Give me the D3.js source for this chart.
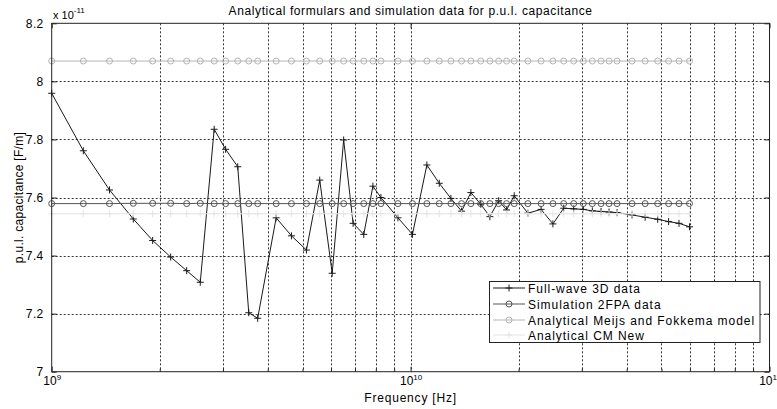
<!DOCTYPE html>
<html>
<head>
<meta charset="utf-8">
<script src="https://cdn.jsdelivr.net/npm/d3@7/dist/d3.min.js"></script>
<style>
  html, body { margin: 0; padding: 0; background: #fff; }
  svg { display: block; font-family: "Liberation Sans", Arial, Helvetica, sans-serif; }
</style>
</head>
<body>
<svg id="chart" width="777" height="409"></svg>
<script>
// ---------------- data ----------------
const freqGHz = [1.0, 1.225, 1.449, 1.688, 1.911, 2.145, 2.377, 2.594, 2.836, 3.052,
  3.299, 3.54, 3.749, 4.221, 4.656, 5.126, 5.582, 6.047, 6.508, 6.916,
  7.404, 7.852, 8.266, 9.22, 10.12, 11.1, 12.02, 12.95, 13.87, 14.72,
  15.68, 16.63, 17.59, 18.51, 19.44, 21.22, 23.1, 24.92, 26.7, 28.47,
  30.29, 32.09, 33.93, 35.72, 37.6, 41.4, 45.03, 48.8, 52.35, 55.96, 59.86];

const fullWave = [7.959, 7.761, 7.626, 7.526, 7.452, 7.395, 7.348, 7.308, 7.835, 7.766,
  7.706, 7.203, 7.184, 7.530, 7.468, 7.419, 7.660, 7.339, 7.798, 7.511,
  7.473, 7.639, 7.600, 7.530, 7.473, 7.712, 7.649, 7.597, 7.553, 7.617,
  7.577, 7.534, 7.589, 7.557, 7.606, 7.546, 7.559, 7.509, 7.563, 7.561,
  7.559, 7.554, 7.552, 7.550, 7.548, 7.540, 7.532, 7.525, 7.517, 7.511, 7.499];

const sim2FPA = [7.579, 7.579, 7.579, 7.580, 7.580, 7.580, 7.579, 7.580, 7.579, 7.579,
  7.579, 7.579, 7.579, 7.579, 7.579, 7.579, 7.579, 7.579, 7.579, 7.579,
  7.579, 7.579, 7.579, 7.579, 7.579, 7.579, 7.579, 7.579, 7.579, 7.579,
  7.579, 7.579, 7.579, 7.579, 7.579, 7.579, 7.579, 7.579, 7.579, 7.579,
  7.579, 7.579, 7.579, 7.579, 7.579, 7.579, 7.579, 7.579, 7.579, 7.579, 7.579];

const meijsFokkema = [8.07, 8.07, 8.07, 8.07, 8.07, 8.07, 8.07, 8.07, 8.07, 8.07,
  8.07, 8.07, 8.07, 8.07, 8.07, 8.07, 8.07, 8.07, 8.07, 8.07,
  8.07, 8.07, 8.07, 8.07, 8.07, 8.07, 8.07, 8.07, 8.07, 8.07,
  8.07, 8.07, 8.07, 8.07, 8.07, 8.07, 8.07, 8.07, 8.07, 8.07,
  8.07, 8.07, 8.07, 8.07, 8.07, 8.07, 8.07, 8.07, 8.07, 8.07, 8.07];

const cmNew = [7.544, 7.544, 7.544, 7.544, 7.544, 7.544, 7.544, 7.544, 7.544, 7.544,
  7.544, 7.544, 7.544, 7.544, 7.544, 7.544, 7.544, 7.544, 7.544, 7.544,
  7.544, 7.544, 7.544, 7.544, 7.544, 7.544, 7.544, 7.544, 7.544, 7.544,
  7.544, 7.544, 7.544, 7.544, 7.544, 7.544, 7.544, 7.544, 7.544, 7.544,
  7.544, 7.544, 7.544, 7.544, 7.544, 7.544, 7.544, 7.544, 7.544, 7.544, 7.544];

const yTicks = [7, 7.2, 7.4, 7.6, 7.8, 8, 8.2];
const yTickLabels = ["7", "7.2", "7.4", "7.6", "7.8", "8", "8.2"];
const xMajorTicks = [1e9, 1e10, 1e11];
const xMajorExponents = ["9", "10", "11"];

const titleText = "Analytical formulars and simulation data for p.u.l. capacitance";
const xLabelText = "Frequency [Hz]";
const yLabelText = "p.u.l. capacitance [F/m]";

const seriesNames = ["Full-wave 3D data", "Simulation 2FPA data",
  "Analytical Meijs and Fokkema model", "Analytical CM New"];

// ---------------- layout ----------------
const svg = d3.select("#chart");
const L = 51.7, R = 769.5, T = 23.3, B = 371.7;

const x = d3.scaleLog().domain([1e9, 1e11]).range([L, R]);
const y = d3.scaleLinear().domain([7, 8.2]).range([B, T]);

const xMinor = [];
[1e9, 1e10].forEach(d => { for (let k = 2; k <= 9; k++) xMinor.push(d * k); });

// ---------------- grid ----------------
const gridG = svg.append("g");
gridG.selectAll("line.vx").data(xMinor.concat([1e10])).enter().append("line")
  .attr("x1", d => Math.round(x(d)) + 0.5).attr("x2", d => Math.round(x(d)) + 0.5)
  .attr("y1", T).attr("y2", B)
  .attr("stroke", "#333").attr("stroke-width", 1).attr("stroke-dasharray", "2,2");
gridG.selectAll("line.hy").data(yTicks.slice(1, -1)).enter().append("line")
  .attr("x1", L).attr("x2", R)
  .attr("y1", d => Math.round(y(d)) + 0.5).attr("y2", d => Math.round(y(d)) + 0.5)
  .attr("stroke", "#333").attr("stroke-width", 1).attr("stroke-dasharray", "2,2");

// ---------------- series ----------------
const freqHz = freqGHz.map(f => f * 1e9);
function pts(vals) { return vals.map((v, i) => [x(freqHz[i]), y(v)]); }
const line = d3.line();

function plusMarker(g, p, color, s) {
  g.selectAll(null).data(p).enter().append("path")
    .attr("d", d => `M${d[0]-s},${d[1]}H${d[0]+s}M${d[0]},${d[1]-s}V${d[1]+s}`)
    .attr("stroke", color).attr("stroke-width", 1).attr("fill", "none");
}
function circleMarker(g, p, color, r) {
  g.selectAll(null).data(p).enter().append("circle")
    .attr("cx", d => d[0]).attr("cy", d => d[1]).attr("r", r)
    .attr("stroke", color).attr("stroke-width", 1).attr("fill", "none");
}

const styles = [
  { vals: fullWave, color: "#1a1a1a", marker: "plus" },
  { vals: sim2FPA, color: "#555555", marker: "circle" },
  { vals: meijsFokkema, color: "#b4b4b4", marker: "circle" },
  { vals: cmNew, color: "#e4e4e4", marker: "plus" }
];

const dataG = svg.append("g");
styles.forEach(s => {
  const p = pts(s.vals);
  const g = dataG.append("g");
  g.append("path").attr("d", line(p)).attr("fill", "none")
    .attr("stroke", s.color).attr("stroke-width", 1);
  if (s.marker === "plus") plusMarker(g, p, s.color, 3.5);
  else circleMarker(g, p, s.color, 3);
});

// ---------------- axes ----------------
const axG = svg.append("g");
const yAxis = d3.axisLeft(y).tickValues(yTicks)
  .tickFormat((d, i) => yTickLabels[i]).tickSize(-5).tickPadding(8);
const yG = axG.append("g").attr("transform", `translate(${L},0)`).call(yAxis);
yG.select(".domain").remove();
yG.selectAll("line").attr("stroke", "#222");
yG.selectAll("text").attr("font-size", 12).attr("fill", "#000")
  .attr("letter-spacing", 0.4)
  .attr("font-family", "Liberation Sans, Arial, sans-serif");

const yAxisR = d3.axisRight(y).tickValues(yTicks).tickFormat("").tickSize(-5);
const yGR = axG.append("g").attr("transform", `translate(${R},0)`).call(yAxisR);
yGR.select(".domain").remove();
yGR.selectAll("line").attr("stroke", "#222");

const xAxis = d3.axisBottom(x).tickValues(xMajorTicks).tickFormat("").tickSize(-5).tickPadding(8);
const xG = axG.append("g").attr("transform", `translate(0,${B})`).call(xAxis);
xG.select(".domain").remove();
xG.selectAll("line").attr("stroke", "#222");
xG.selectAll(".tick text").each(function(d, i) {
  const t = d3.select(this);
  t.text(null).attr("font-size", 12).attr("fill", "#000").attr("dy", null)
    .attr("y", 13.5).attr("text-anchor", "middle")
    .attr("font-family", "Liberation Sans, Arial, sans-serif");
  t.append("tspan").text("10");
  t.append("tspan").text(xMajorExponents[i]).attr("font-size", 8).attr("dy", -5);
});
const xMinorAxis = d3.axisBottom(x).tickValues(xMinor).tickFormat("").tickSize(-3);
const xmG = axG.append("g").attr("transform", `translate(0,${B})`).call(xMinorAxis);
xmG.select(".domain").remove();
xmG.selectAll("line").attr("stroke", "#222");
const xTopAxis = d3.axisTop(x).tickValues(xMajorTicks).tickFormat("").tickSize(-5);
const xtG = axG.append("g").attr("transform", `translate(0,${T})`).call(xTopAxis);
xtG.select(".domain").remove();
xtG.selectAll("line").attr("stroke", "#222");

axG.append("rect").attr("x", L).attr("y", T).attr("width", R - L).attr("height", B - T)
  .attr("fill", "none").attr("stroke", "#222").attr("stroke-width", 1);

const mult = svg.append("text").attr("x", 53).attr("y", 18.5)
  .attr("font-size", 11).attr("fill", "#000");
mult.append("tspan").text("x 10");
mult.append("tspan").text("-11").attr("font-size", 8).attr("dy", -6);

// title & labels
svg.append("text").attr("x", (L + R) / 2).attr("y", 14.5).attr("text-anchor", "middle")
  .attr("font-size", 12).attr("letter-spacing", 0.6).attr("fill", "#000").text(titleText);
svg.append("text").attr("x", (L + R) / 2).attr("y", 401.5).attr("text-anchor", "middle")
  .attr("font-size", 12).attr("letter-spacing", 0.8).attr("fill", "#000").text(xLabelText);
svg.append("text").attr("transform", `translate(23,${(T + B) / 2}) rotate(-90)`)
  .attr("text-anchor", "middle").attr("font-size", 12).attr("letter-spacing", 0.3)
  .attr("fill", "#000").text(yLabelText);

// ---------------- legend ----------------
const lg = svg.append("g");
lg.append("rect").attr("x", 489.5).attr("y", 281.5).attr("width", 270.5).attr("height", 61)
  .attr("fill", "#fff").attr("stroke", "#222").attr("stroke-width", 1);
const rowY = [288, 304, 320, 335];
seriesNames.forEach((name, i) => {
  const s = styles[i];
  const yy = rowY[i];
  lg.append("line").attr("x1", 493).attr("x2", 525).attr("y1", yy).attr("y2", yy)
    .attr("stroke", s.color).attr("stroke-width", 1);
  if (s.marker === "plus") plusMarker(lg, [[509, yy]], s.color, 3.5);
  else circleMarker(lg, [[509, yy]], s.color, 3);
  lg.append("text").attr("x", 528).attr("y", yy + 4.5).attr("font-size", 12)
    .attr("letter-spacing", 0.95).attr("fill", "#000").text(name);
});
</script>
</body>
</html>
